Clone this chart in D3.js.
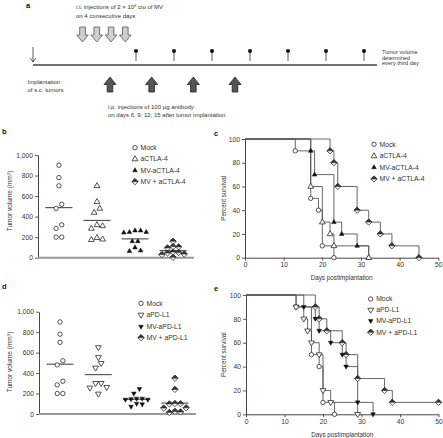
<!DOCTYPE html>
<html><head><meta charset="utf-8">
<script src="https://cdn.jsdelivr.net/npm/d3@7"></script>
<style>
html,body{margin:0;padding:0;background:#fff;}
svg{display:block;font-family:"Liberation Sans",Arial,sans-serif;}
</style></head><body>
<svg id="chart" width="443" height="438"></svg>
<script>
// ---------------- data ----------------
const groupsB = ["Mock", "aCTLA-4", "MV-aCTLA-4", "MV + aCTLA-4"];
const groupsD = ["Mock", "aPD-L1", "MV-aPD-L1", "MV + aPD-L1"];

// tumour volumes (mm3), panel b
const volMock = [900, 780, 700, 520, 480, 320, 285, 200, 200];
const volACTLA4 = [700, 545, 480, 440, 320, 310, 285, 195, 180, 175];
const volMVaCTLA4 = [265, 265, 250, 250, 245, 160, 160, 100, 70, 65];
const volMVplusACTLA4 = [160, 108, 105, 95, 55, 50, 45, 35, 30, 4];
// tumour volumes (mm3), panel d
const volAPDL1 = [650, 553, 495, 450, 300, 300, 261, 255, 196];
const volMVaPDL1 = [245, 200, 150, 150, 145, 140, 140, 100, 95, 72];
const volMVplusAPDL1 = [350, 240, 102, 100, 98, 60, 58, 25, 20, 15];

const volTicks = [0, 200, 400, 600, 800, 1000];
const survTicksX = [0, 10, 20, 30, 40, 50];
const survTicksY = [0, 20, 40, 60, 80, 100];

// survival steps: event day -> percent surviving after it, panel c
const mockDays = [13, 17, 19, 20, 23];
const mockPct = [90, 50, 40, 10, 0];
const aCTLA4Days = [17, 20, 22, 23, 32];
const aCTLA4Pct = [60, 30, 20, 10, 0];
const mvaCTLA4Days = [17, 18, 23, 25, 29, 32];
const mvaCTLA4Pct = [90, 70, 30, 20, 10, 0];
const mvPlusCTLA4Days = [22, 23, 24, 29, 32, 35, 38, 45];
const mvPlusCTLA4Pct = [90, 80, 60, 40, 30, 20, 10, 0];
// panel e
const aPDL1Days = [13, 15, 16, 17, 19, 20, 22, 29];
const aPDL1Pct = [90, 80, 70, 60, 50, 20, 10, 0];
const mvaPDL1Days = [15, 18, 19, 22, 25, 26, 29, 33];
const mvaPDL1Pct = [90, 80, 70, 60, 50, 40, 10, 0];
const mvPlusPDL1Days = [18, 19, 21, 25, 26, 29, 36, 38, 50];
const mvPlusPDL1Pct = [90, 80, 70, 60, 50, 30, 20, 10, 10];

// schedule (panel a)
const mvDays = [1, 2, 3, 4];
const antibodyDays = [6, 9, 12, 15];
const measurements = [1, 2, 3, 4, 5, 6, 7];

// ---------------- helpers ----------------
const svg = d3.select("#chart");
const INK = "#2a2a2a", LINE = "#555";

function drawSymbol(g, type, x, y) {
  const s = g.append("g").attr("transform", `translate(${x},${y})`);
  const st = (sel) => sel.attr("stroke", INK).attr("stroke-width", 0.8);
  if (type === "circle") st(s.append("circle").attr("r", 2.2).attr("fill", "#fff"));
  else if (type === "tri") st(s.append("path").attr("d", "M0,-3.2L2.9,1.8L-2.9,1.8Z").attr("fill", "#fff"));
  else if (type === "triFill") s.append("path").attr("d", "M0,-2.6L2.3,1.5L-2.3,1.5Z").attr("fill", "#111").attr("stroke", "#111").attr("stroke-width", 0.5);
  else if (type === "triDown") st(s.append("path").attr("d", "M0,3.2L2.9,-1.8L-2.9,-1.8Z").attr("fill", "#fff"));
  else if (type === "triDownFill") s.append("path").attr("d", "M0,2.6L2.3,-1.5L-2.3,-1.5Z").attr("fill", "#111").attr("stroke", "#111").attr("stroke-width", 0.5);
  else if (type === "half") {
    st(s.append("path").attr("d", "M0,-3.1L3.1,0L0,3.1L-3.1,0Z").attr("fill", "#fff"));
    s.append("path").attr("d", "M0,-3.1L3.1,0L-3.1,0Z").attr("fill", "#333").attr("stroke", INK).attr("stroke-width", 0.6);
  }
}

function styleAxis(g, fs) {
  g.attr("font-family", null).attr("font-size", null);
  g.selectAll("text").attr("font-size", fs).attr("fill", "#333");
  g.selectAll("line").attr("stroke", "#333").attr("stroke-width", 0.8);
  g.select(".domain").attr("stroke", "#333").attr("stroke-width", 0.9);
}

function label(x, y, s, opts = {}) {
  const t = svg.append("text").attr("x", x).attr("y", y).attr("font-size", opts.fs || 6)
    .attr("fill", opts.fill || "#333").text(s);
  if (opts.bold) t.attr("font-weight", "bold");
  if (opts.anchor) t.attr("text-anchor", opts.anchor);
  return t;
}

// rows of near-equal values spread horizontally (centre-out)
function rowLayout(vals, y, T, S) {
  const sorted = vals.slice().sort((a, b) => b - a);
  const rows = []; let cur = null;
  sorted.forEach(v => {
    if (cur && (y(v) - y(cur[0])) < T) cur.push(v); else { cur = [v]; rows.push(cur); }
  });
  const out = [];
  rows.forEach(r => {
    const n = r.length, slots = [];
    for (let k = 0; k < n; k++) slots.push(k - (n - 1) / 2);
    slots.sort((a, b) => Math.abs(a) - Math.abs(b) || b - a);
    r.forEach((v, k) => out.push({ v, dx: slots[k] * S }));
  });
  return out;
}

function legend(x, ys, names, types) {
  names.forEach((n, i) => {
    drawSymbol(svg, types[i], x, ys[i]);
    label(x + 5.5, ys[i] + 2.4, n, { fs: 6.8 });
  });
}

// ---------------- panel a ----------------
label(26, 8, "a", { fs: 7.5, bold: true, fill: "#111" });
const t1 = svg.append("text").attr("x", 76).attr("y", 9).attr("font-size", 6).attr("fill", "#333");
t1.append("tspan").text("i.t. injections of 2 \u00d7 10");
t1.append("tspan").attr("font-size", 4).attr("dy", -2.3).text("6");
t1.append("tspan").attr("dy", 2.3).text(" ciu of MV");
label(76, 17.5, "on 4 consecutive days");

const xMV = d3.scalePoint().domain(mvDays).range([82.5, 125.3]);
mvDays.forEach(d => {
  const cx = xMV(d), y0 = 27, y1 = 42;
  svg.append("path")
    .attr("d", `M${cx - 2.8},${y0}L${cx + 2.8},${y0}L${cx + 2.8},${y1 - 7}L${cx + 5.8},${y1 - 7}L${cx},${y1}L${cx - 5.8},${y1 - 7}L${cx - 2.8},${y1 - 7}Z`)
    .attr("fill", "#cfcfcf").attr("stroke", "#555").attr("stroke-width", 0.8);
});
// implantation arrow
svg.append("line").attr("x1", 33).attr("x2", 33).attr("y1", 47).attr("y2", 62).attr("stroke", "#333").attr("stroke-width", 0.8);
svg.append("path").attr("d", "M30.3,58.2L33,62L35.7,58.2").attr("fill", "none").attr("stroke", "#333").attr("stroke-width", 0.8);
// time line
svg.append("line").attr("x1", 33).attr("x2", 377).attr("y1", 65).attr("y2", 65).attr("stroke", "#444").attr("stroke-width", 1.3);
const xPin = d3.scalePoint().domain(measurements).range([136, 364]);
measurements.forEach(m => {
  svg.append("line").attr("x1", xPin(m)).attr("x2", xPin(m)).attr("y1", 51).attr("y2", 61).attr("stroke", "#333").attr("stroke-width", 0.8);
  svg.append("circle").attr("cx", xPin(m)).attr("cy", 51).attr("r", 2).attr("fill", "#111");
});
label(382, 53.7, "Tumor volume", { fs: 5.6 });
label(382, 59.5, "determined", { fs: 5.6 });
label(382, 65.3, "every third day", { fs: 5.6 });
label(27.5, 84, "Implantation");
label(27.5, 92, "of s.c. tumors");
const xAb = d3.scaleLinear().domain([6, 15]).range([110, 235]);
antibodyDays.forEach(d => {
  const cx = xAb(d), yb = 92, yt = 77;
  svg.append("path")
    .attr("d", `M${cx - 2.8},${yb}L${cx + 2.8},${yb}L${cx + 2.8},${yt + 7.5}L${cx + 6},${yt + 7.5}L${cx},${yt}L${cx - 6},${yt + 7.5}L${cx - 2.8},${yt + 7.5}Z`)
    .attr("fill", "#555").attr("stroke", "#222").attr("stroke-width", 0.8);
});
label(108, 109, "i.p. injections of 100 \u03bcg antibody");
label(108, 117.3, "on days 6, 9, 12, 15 after tumor implantation");

// ---------------- scatter panels ----------------
function scatterPanel(groups, data, types, xr, yr, letter, letterY, titleY) {
  const x = d3.scalePoint().domain(groups).range(xr).padding(0.55);
  const y = d3.scaleLinear().domain([0, 1000]).range(yr);
  const ax = svg.append("g").attr("transform", `translate(${xr[0]},0)`)
    .call(d3.axisLeft(y).tickValues(volTicks).tickFormat(d3.format(",")).tickSize(3).tickPadding(2).tickSizeOuter(0));
  styleAxis(ax, 6.7);
  svg.append("line").attr("x1", xr[0]).attr("x2", xr[1]).attr("y1", y(0)).attr("y2", y(0))
    .attr("stroke", "#999").attr("stroke-width", 2);
  groups.forEach((g, i) => {
    const cx = x(g);
    const m = d3.mean(data[i]);
    svg.append("line").attr("x1", cx - 13.5).attr("x2", cx + 13.5).attr("y1", y(m)).attr("y2", y(m))
      .attr("stroke", "#222").attr("stroke-width", 0.9);
    rowLayout(data[i], y, 5, 5.6).forEach(p => drawSymbol(svg, types[i], cx + p.dx, y(p.v)));
  });
  label(2, letterY, letter, { fs: 7.5, bold: true, fill: "#111" });
  const t = svg.append("text").attr("transform", `translate(11.8,${titleY}) rotate(-90)`)
    .attr("text-anchor", "middle").attr("font-size", 6.5).attr("fill", "#333");
  t.append("tspan").text("Tumor volume (mm");
  t.append("tspan").attr("font-size", 4.3).attr("dy", -2.3).text("3");
  t.append("tspan").attr("dy", 2.3).text(")");
}

const typesB = ["circle", "tri", "triFill", "half"];
const typesD = ["circle", "triDown", "triDownFill", "half"];
scatterPanel(groupsB, [volMock, volACTLA4, volMVaCTLA4, volMVplusACTLA4], typesB, [38, 194], [257.7, 155], "b", 134, 201);
legend(135, [147.7, 159, 170.3, 181.7], groupsB, typesB);
scatterPanel(groupsD, [volMock, volAPDL1, volMVaPDL1, volMVplusAPDL1], typesD, [39, 196], [414, 311.7], "d", 289, 362);
legend(141, [303.3, 315, 326.7, 337.7], groupsD, typesD);

// ---------------- survival panels ----------------
function survPanel(curves, types, xr, yr, letter, lx, ly) {
  const x = d3.scaleLinear().domain([0, 50]).range(xr);
  const y = d3.scaleLinear().domain([0, 100]).range(yr);
  const ay = svg.append("g").attr("transform", `translate(${xr[0]},0)`)
    .call(d3.axisLeft(y).tickValues(survTicksY).tickSize(3).tickPadding(2).tickSizeOuter(0));
  styleAxis(ay, 6.7);
  const axx = svg.append("g").attr("transform", `translate(0,${yr[0]})`)
    .call(d3.axisBottom(x).tickValues(survTicksX).tickSize(3).tickPadding(2).tickSizeOuter(0));
  styleAxis(axx, 6.7);
  const line = d3.line().x(d => x(d[0])).y(d => y(d[1])).curve(d3.curveStepAfter);
  curves.slice().reverse().forEach(c => {
    const pts = [[0, 100]].concat(c.days.map((d, i) => [d, c.pct[i]]));
    svg.append("path").attr("d", line(pts)).attr("fill", "none").attr("stroke", LINE).attr("stroke-width", 0.9);
  });
  curves.slice().reverse().forEach((c, ri) => {
    const i = curves.length - 1 - ri;
    c.days.forEach((d, k) => drawSymbol(svg, types[i], x(d), y(c.pct[k])));
  });
  const tt = svg.append("text").attr("transform", `translate(226.3,${(yr[0] + yr[1]) / 2}) rotate(-90)`)
    .attr("text-anchor", "middle").attr("font-size", 6.3).attr("fill", "#333").text("Percent survival");
  label((xr[0] + xr[1]) / 2, yr[0] + 22.3, "Days postimplantation", { fs: 6.3, anchor: "middle" });
  label(lx, ly, letter, { fs: 7.5, bold: true, fill: "#111" });
}

survPanel([
  { days: mockDays, pct: mockPct },
  { days: aCTLA4Days, pct: aCTLA4Pct },
  { days: mvaCTLA4Days, pct: mvaCTLA4Pct },
  { days: mvPlusCTLA4Days, pct: mvPlusCTLA4Pct }
], typesB, [245, 438.3], [257.7, 139], "c", 214, 135.5);
legend(374, [144.3, 156, 167.3, 179], groupsB, typesB);

survPanel([
  { days: mockDays, pct: mockPct },
  { days: aPDL1Days, pct: aPDL1Pct },
  { days: mvaPDL1Days, pct: mvaPDL1Pct },
  { days: mvPlusPDL1Days, pct: mvPlusPDL1Pct }
], typesD, [246, 438.5], [414.3, 295], "e", 214, 291);
legend(370.7, [299, 310, 321, 332.3], groupsD, typesD);
</script>
</body></html>
